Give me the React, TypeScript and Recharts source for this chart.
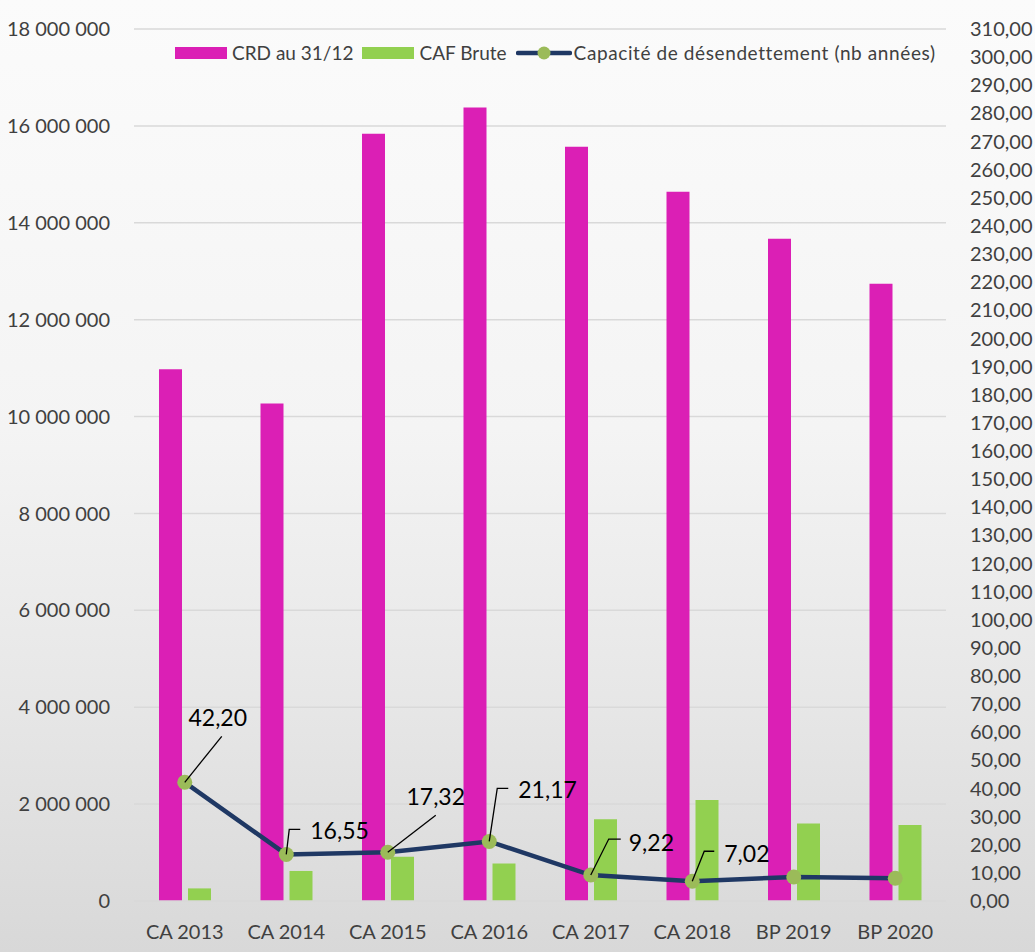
import {
  ComposedChart,
  Bar,
  Line,
  XAxis,
  YAxis,
  CartesianGrid,
  LabelList,
} from "recharts";

const categories = ["CA 2013", "CA 2014", "CA 2015", "CA 2016", "CA 2017", "CA 2018", "BP 2019", "BP 2020"];
const crd = [10975000, 10270000, 15840000, 16380000, 15570000, 14640000, 13670000, 12740000];
const caf = [260000, 620000, 915000, 774000, 1689000, 2085000, 1600000, 1570000];
const capacite = [42.2, 16.55, 17.32, 21.17, 9.22, 7.02, 8.54, 8.11];
const labelled = [true, true, true, true, true, true, false, false];

const leftTicks = [0, 2000000, 4000000, 6000000, 8000000, 10000000, 12000000, 14000000, 16000000, 18000000];
const rightTicks = [
  0, 10, 20, 30, 40, 50, 60, 70, 80, 90, 100, 110, 120, 130, 140, 150,
  160, 170, 180, 190, 200, 210, 220, 230, 240, 250, 260, 270, 280, 290, 300, 310,
];

const data = categories.map((name, i) => ({
  name,
  crd: crd[i],
  caf: caf[i],
  cap: capacite[i],
}));

const FONT = "Lato, 'Open Sans', sans-serif";
const PINK = "#DB1FB5";
const GREEN = "#92D050";
const NAVY = "#1F3864";
const DOT = "#9BBB59";
const AXIS_TEXT = "#404040";

const fmtSpaces = (v: number) => String(v).replace(/\B(?=(\d{3})+(?!\d))/g, " ");
const fmtComma = (v: number) => v.toFixed(2).replace(".", ",");

// callout placement for each data label: [elbowDx, elbowDy, endDx, textDx, textDy, anchor]
const callouts: [number, number, number, number, number, "middle" | "start"][] = [
  [37, -46, 37, 33, -65, "middle"],
  [3, -25, 14, 24, -24, "start"],
  [48, -37, 48, 48, -56, "middle"],
  [8, -53, 19, 29, -52, "start"],
  [18, -36, 30, 38, -33, "start"],
  [12, -30, 22, 32, -28, "start"],
];

function Callout(props: any) {
  const { x, y, index, value } = props;
  if (!labelled[index]) return null;
  const [ex, ey, hx, tx, ty, anchor] = callouts[index];
  return (
    <g>
      <polyline
        points={`${x},${y} ${x + ex},${y + ey} ${x + hx},${y + ey}`}
        fill="none"
        stroke="#000"
        strokeWidth={1.3}
      />
      <text
        x={x + tx}
        y={y + ty}
        textAnchor={anchor}
        dominantBaseline="central"
        fontSize={23}
        fontFamily={FONT}
        fill="#000"
      >
        {fmtComma(value)}
      </text>
    </g>
  );
}

function LegendBox() {
  const item = { display: "flex", alignItems: "center", marginRight: 9 } as const;
  return (
    <div
      style={{
        position: "absolute",
        left: 175,
        top: 41,
        display: "flex",
        alignItems: "center",
        fontFamily: FONT,
        fontSize: 19,
        color: AXIS_TEXT,
        whiteSpace: "nowrap",
      }}
    >
      <div style={item}>
        <span style={{ width: 52, height: 12, background: PINK, marginRight: 5 }} />
        CRD au 31/12
      </div>
      <div style={item}>
        <span style={{ width: 52, height: 12, background: GREEN, marginRight: 5 }} />
        CAF Brute
      </div>
      <div style={item}>
        <svg width={56} height={16} style={{ marginRight: 2 }}>
          <line x1={2} y1={8} x2={54} y2={8} stroke={NAVY} strokeWidth={4.5} strokeLinecap="round" />
          <circle cx={28} cy={8} r={6.5} fill={DOT} />
        </svg>
        <span style={{ letterSpacing: 0.6 }}>Capacité de désendettement (nb années)</span>
      </div>
    </div>
  );
}

export default function App() {
  return (
    <div
      style={{
        position: "absolute",
        left: 0,
        top: 0,
        width: 1035,
        height: 952,
        overflow: "hidden",
        background: "linear-gradient(180deg, #fbfbfb 0%, #f4f4f4 45%, #e6e6e6 75%, #d8d8d8 100%)",
      }}
    >
      <ComposedChart
        width={1035}
        height={952}
        data={data}
        margin={{ top: 29, right: 0, bottom: 0, left: 0 }}
        barGap={6}
        barSize={23}
      >
        <CartesianGrid yAxisId="left" vertical={false} stroke="#d9d9d9" strokeWidth={1.5} />
        <XAxis
          dataKey="name"
          height={51}
          axisLine={{ stroke: "#d9d9d9", strokeWidth: 1.5 }}
          tickLine={false}
          tickMargin={18}
          tick={{ fontSize: 20, fill: AXIS_TEXT, fontFamily: FONT }}
        />
        <YAxis
          yAxisId="left"
          orientation="left"
          width={134}
          domain={[0, 18000000]}
          ticks={leftTicks}
          axisLine={false}
          tickLine={false}
          tickSize={0}
          tickMargin={24}
          tickFormatter={fmtSpaces}
          tick={{ fontSize: 20, fill: AXIS_TEXT, fontFamily: FONT }}
        />
        <YAxis
          yAxisId="right"
          orientation="right"
          width={89}
          domain={[0, 310]}
          ticks={rightTicks}
          interval={0}
          axisLine={false}
          tickLine={false}
          tickSize={0}
          tickMargin={24}
          tickFormatter={fmtComma}
          tick={{ fontSize: 20, fill: AXIS_TEXT, fontFamily: FONT }}
        />
        <Bar yAxisId="left" dataKey="crd" fill={PINK} isAnimationActive={false} />
        <Bar yAxisId="left" dataKey="caf" fill={GREEN} isAnimationActive={false} />
        <Line
          yAxisId="right"
          dataKey="cap"
          stroke={NAVY}
          strokeWidth={4.5}
          dot={{ r: 7.5, fill: DOT, stroke: DOT, strokeWidth: 0 }}
          activeDot={false}
          isAnimationActive={false}
        >
          <LabelList dataKey="cap" content={Callout} />
        </Line>
      </ComposedChart>
      <LegendBox />
    </div>
  );
}
